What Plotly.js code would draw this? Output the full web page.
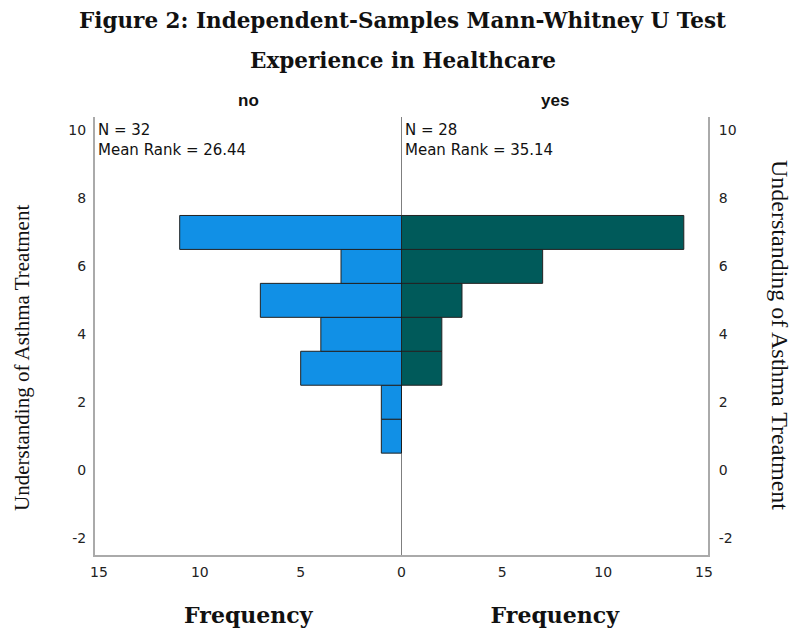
<!DOCTYPE html>
<html>
<head>
<meta charset="utf-8">
<script src="https://cdn.plot.ly/plotly-3.0.1.min.js"></script>
<style>html,body{margin:0;padding:0;background:#fff;}#chart{width:793px;height:628px;}</style>
</head>
<body>
<div id="chart"></div>
<script>
// Data
const scoreBins = [1, 2, 3, 4, 5, 6, 7];
const freqNo = [1, 1, 5, 4, 7, 3, 11];
const freqYes = [0, 0, 2, 2, 3, 7, 14];
const groupLabels = ['no', 'yes'];
const groupN = [32, 28];
const groupMeanRank = [26.44, 35.14];
const freqTicksLeft = [0, 5, 10, 15];
const freqTickTextLeft = ['0', '5', '10', '15'];
const freqTicksRight = [5, 10, 15];
const freqTickTextRight = ['5', '10', '15'];
const scoreTicks = [-2, 0, 2, 4, 6, 8, 10];
const scoreTickText = ['-2', '0', '2', '4', '6', '8', '10'];

const serif = 'Liberation Serif, Times New Roman, serif';
const serifWide = 'DejaVu Serif, serif';
const sans = 'DejaVu Sans, Arial, sans-serif';

const traces = [
  {
    type: 'bar', orientation: 'h', y: scoreBins, x: freqNo, width: 1,
    xaxis: 'x', yaxis: 'y',
    marker: {color: '#1190e6', line: {color: '#222', width: 1}},
    hoverinfo: 'x+y', showlegend: false
  },
  {
    type: 'bar', orientation: 'h', y: scoreBins, x: freqYes, width: 1,
    xaxis: 'x2', yaxis: 'y2',
    marker: {color: '#005a5a', line: {color: '#222', width: 1}},
    hoverinfo: 'x+y', showlegend: false
  }
];

const axisFont = {family: sans, size: 14, color: '#222'};
const freqTitle = {text: 'Frequency', font: {family: serifWide, size: 22, color: '#111', weight: 'bold'}, standoff: 31};
const layout = {
  width: 793, height: 628,
  margin: {l: 95, r: 85, t: 117, b: 73, pad: 0},
  paper_bgcolor: '#fff', plot_bgcolor: '#fff',
  bargap: 0,
  showlegend: false,
  xaxis: {
    domain: [0, 0.5], range: [15.2, 0], anchor: 'y',
    tickvals: freqTicksLeft, ticktext: freqTickTextLeft, ticks: '', showgrid: false, zeroline: false,
    showline: true, linecolor: '#aaa', linewidth: 2,
    tickfont: axisFont, ticklabelstandoff: 3,
    title: freqTitle
  },
  xaxis2: {
    domain: [0.5, 1], range: [0, 15.2], anchor: 'y2',
    tickvals: freqTicksRight, ticktext: freqTickTextRight, ticks: '', showgrid: false, zeroline: false,
    showline: true, linecolor: '#aaa', linewidth: 2,
    tickfont: axisFont, ticklabelstandoff: 3,
    title: freqTitle
  },
  yaxis: {
    range: [-2.5, 10.4], anchor: 'x', side: 'left',
    tickvals: scoreTicks, ticktext: scoreTickText, ticks: '', showgrid: false, zeroline: false,
    showline: true, linecolor: '#aaa', linewidth: 2,
    tickfont: axisFont, ticklabelstandoff: 4
  },
  yaxis2: {
    range: [-2.5, 10.4], anchor: 'x2', side: 'right', matches: 'y',
    tickvals: scoreTicks, ticktext: scoreTickText, ticks: '', showgrid: false, zeroline: false,
    showline: true, linecolor: '#aaa', linewidth: 2,
    tickfont: axisFont, ticklabelstandoff: 6
  },
  shapes: [
    {type: 'line', xref: 'x2', yref: 'paper', x0: 0, x1: 0, y0: 0, y1: 1,
     line: {color: '#000', width: 1}}
  ],
  annotations: [
    {text: '<b>Figure 2: Independent-Samples Mann-Whitney U Test</b>', xref: 'paper', yref: 'paper',
     x: 0.5, y: 1, xanchor: 'center', yanchor: 'middle', showarrow: false, xshift: 1,
     font: {family: serifWide, size: 21.5, color: '#111'}, yshift: 117 - 20},
    {text: '<b>Experience in Healthcare</b>', xref: 'paper', yref: 'paper',
     x: 0.5, y: 1, xanchor: 'center', yanchor: 'middle', showarrow: false, xshift: 1,
     font: {family: serifWide, size: 21.5, color: '#111'}, yshift: 117 - 60},
    {text: '<b>' + groupLabels[0] + '</b>', xref: 'x', yref: 'paper', x: 7.6, y: 1,
     xanchor: 'center', yanchor: 'middle', showarrow: false, yshift: 17,
     font: {family: 'Liberation Sans, Arial, sans-serif', size: 17, color: '#111'}},
    {text: '<b>' + groupLabels[1] + '</b>', xref: 'x2', yref: 'paper', x: 7.6, y: 1,
     xanchor: 'center', yanchor: 'middle', showarrow: false, yshift: 17,
     font: {family: 'Liberation Sans, Arial, sans-serif', size: 17, color: '#111'}},
    {text: 'N = ' + groupN[0] + '<br>Mean Rank = ' + groupMeanRank[0].toFixed(2), xref: 'x', yref: 'paper',
     x: 15.2, y: 1, xanchor: 'left', yanchor: 'top', align: 'left', showarrow: false, xshift: 1, yshift: -2,
     font: {family: sans, size: 15, color: '#111'}},
    {text: 'N = ' + groupN[1] + '<br>Mean Rank = ' + groupMeanRank[1].toFixed(2), xref: 'x2', yref: 'paper',
     x: 0, y: 1, xanchor: 'left', yanchor: 'top', align: 'left', showarrow: false, xshift: 1, yshift: -2,
     font: {family: sans, size: 15, color: '#111'}},
    {text: 'Understanding of Asthma Treatment', xref: 'paper', yref: 'paper',
     x: 0, y: 0.5, xanchor: 'center', yanchor: 'middle', textangle: -90, showarrow: false,
     xshift: 22 - 95, yshift: (336 - 358),
     font: {family: serif, size: 21, color: '#111'}},
    {text: 'Understanding of Asthma Treatment', xref: 'paper', yref: 'paper',
     x: 1, y: 0.5, xanchor: 'center', yanchor: 'middle', textangle: 90, showarrow: false,
     xshift: 780 - 708, yshift: (336 - 335),
     font: {family: serif, size: 24, color: '#111'}}
  ]
};

Plotly.newPlot('chart', traces, layout, {displayModeBar: false, staticPlot: true});
</script>
</body>
</html>
